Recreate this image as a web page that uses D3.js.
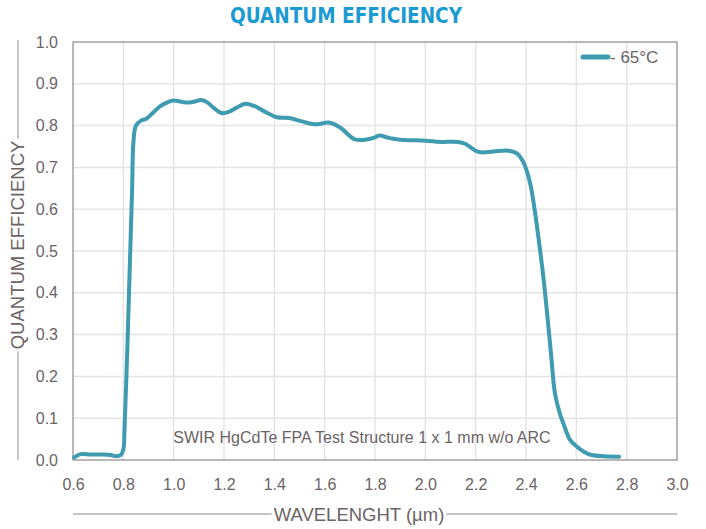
<!DOCTYPE html>
<html>
<head>
<meta charset="utf-8">
<script src="https://cdn.jsdelivr.net/npm/d3@7"></script>
<style>
  html, body { margin: 0; padding: 0; background: #fff; }
  svg { display: block; }
</style>
</head>
<body>
<script>
// ---- data ----
const wavelength = [0.605, 0.63, 0.67, 0.71, 0.75, 0.77, 0.79, 0.80, 0.805, 0.815, 0.825, 0.835, 0.84, 0.85, 0.87, 0.89, 0.92, 0.95, 0.98, 1.0, 1.05, 1.08, 1.11, 1.135, 1.16, 1.19, 1.22, 1.25, 1.285, 1.32, 1.36, 1.41, 1.46, 1.51, 1.56, 1.62, 1.66, 1.70, 1.72, 1.76, 1.80, 1.815, 1.86, 1.90, 2.0, 2.06, 2.13, 2.16, 2.2, 2.22, 2.27, 2.33, 2.365, 2.39, 2.405, 2.42, 2.435, 2.45, 2.47, 2.485, 2.50, 2.515, 2.535, 2.55, 2.575, 2.60, 2.63, 2.66, 2.71, 2.77];
const qe = [0.006, 0.014, 0.013, 0.013, 0.012, 0.009, 0.012, 0.025, 0.08, 0.25, 0.45, 0.65, 0.76, 0.80, 0.812, 0.816, 0.832, 0.848, 0.857, 0.860, 0.855, 0.857, 0.861, 0.855, 0.842, 0.830, 0.833, 0.843, 0.852, 0.847, 0.834, 0.820, 0.818, 0.810, 0.803, 0.807, 0.796, 0.775, 0.767, 0.766, 0.772, 0.776, 0.770, 0.766, 0.764, 0.761, 0.761, 0.756, 0.740, 0.736, 0.738, 0.740, 0.733, 0.712, 0.688, 0.652, 0.596, 0.530, 0.432, 0.344, 0.250, 0.160, 0.110, 0.085, 0.048, 0.033, 0.020, 0.012, 0.009, 0.008];
const xTicks = [0.6, 0.8, 1.0, 1.2, 1.4, 1.6, 1.8, 2.0, 2.2, 2.4, 2.6, 2.8, 3.0];
const yTicks = [0.0, 0.1, 0.2, 0.3, 0.4, 0.5, 0.6, 0.7, 0.8, 0.9, 1.0];
const seriesName = "- 65°C";
const title = "QUANTUM EFFICIENCY";
const xLabel = "WAVELENGHT (µm)";
const yLabel = "QUANTUM EFFICIENCY";
const note = "SWIR HgCdTe FPA Test Structure 1 x 1 mm w/o ARC";

// ---- layout ----
const W = 706, H = 529;
const m = { left: 73, right: 29, top: 42, bottom: 69 };
const pw = W - m.left - m.right, ph = H - m.top - m.bottom;
const lineColor = "#3e9bb0";
const textColor = "#6b6366";
const frameColor = "#8e8789";
const gridColor = "#e4e4e4";
const font = "'Liberation Sans', Arial, sans-serif";

const svg = d3.select("body").append("svg").attr("width", W).attr("height", H);

const x = d3.scaleLinear().domain([0.6, 3.0]).range([m.left, m.left + pw]);
const y = d3.scaleLinear().domain([0, 1]).range([m.top + ph, m.top]);

// title
svg.append("text")
  .attr("x", 346).attr("y", 23)
  .attr("text-anchor", "middle")
  .attr("font-family", "'Liberation Sans Narrow', 'DejaVu Sans Condensed', sans-serif")
  .attr("font-weight", "bold")
  .attr("font-size", 20.5)
  .attr("fill", "#1b9ad4")
  .text(title);

// grid
const g = svg.append("g");
g.selectAll(".hg").data(yTicks.slice(1, -1)).join("line")
  .attr("x1", m.left).attr("x2", m.left + pw)
  .attr("y1", d => y(d)).attr("y2", d => y(d))
  .attr("stroke", gridColor).attr("stroke-width", 1.5);
g.selectAll(".vg").data(xTicks.slice(1, -1)).join("line")
  .attr("y1", m.top).attr("y2", m.top + ph)
  .attr("x1", d => x(d)).attr("x2", d => x(d))
  .attr("stroke", gridColor).attr("stroke-width", 1.5);

// frame
svg.append("rect")
  .attr("x", m.left).attr("y", m.top).attr("width", pw).attr("height", ph)
  .attr("fill", "none").attr("stroke", frameColor).attr("stroke-width", 1.2);

// axes (labels only)
const xAxis = d3.axisBottom(x).tickValues(xTicks).tickFormat(d3.format(".1f")).tickSize(0).tickPadding(19);
const xg = svg.append("g").attr("transform", `translate(0,${m.top + ph})`).call(xAxis);
xg.select(".domain").remove();
xg.selectAll("text").attr("font-family", font).attr("font-size", 16).attr("fill", textColor);

const yAxis = d3.axisLeft(y).tickValues(yTicks).tickFormat(d3.format(".1f")).tickSize(0).tickPadding(15);
const yg = svg.append("g").attr("transform", `translate(${m.left},0)`).call(yAxis);
yg.select(".domain").remove();
yg.selectAll("text").attr("font-family", font).attr("font-size", 16).attr("fill", textColor);

// line
const line = d3.line().x((d, i) => x(wavelength[i])).y(d => y(d)).curve(d3.curveCatmullRom.alpha(0.5));
svg.append("path")
  .datum(qe)
  .attr("d", line)
  .attr("fill", "none")
  .attr("stroke", lineColor)
  .attr("stroke-width", 4)
  .attr("stroke-linejoin", "round")
  .attr("stroke-linecap", "round");

// note
svg.append("text")
  .attr("x", 362).attr("y", 443)
  .attr("text-anchor", "middle")
  .attr("font-family", font).attr("font-size", 16)
  .attr("fill", textColor)
  .text(note);

// legend
svg.append("line")
  .attr("x1", 583).attr("x2", 608).attr("y1", 57).attr("y2", 57)
  .attr("stroke", lineColor).attr("stroke-width", 5).attr("stroke-linecap", "round");
svg.append("text")
  .attr("x", 610).attr("y", 63)
  .attr("font-family", font).attr("font-size", 17).attr("fill", textColor)
  .text(seriesName);

// x label with lines
const xl = svg.append("text")
  .attr("x", 359).attr("y", 521)
  .attr("text-anchor", "middle")
  .attr("font-family", font).attr("font-size", 18.5).attr("fill", textColor)
  .text(xLabel);
const xb = xl.node().getBBox();
svg.append("line").attr("x1", m.left).attr("x2", xb.x - 2).attr("y1", 514).attr("y2", 514)
  .attr("stroke", frameColor).attr("stroke-width", 1);
svg.append("line").attr("x1", xb.x + xb.width + 2).attr("x2", m.left + pw).attr("y1", 514).attr("y2", 514)
  .attr("stroke", frameColor).attr("stroke-width", 1);

// y label with lines
const yc = 245;
const ylab = svg.append("text")
  .attr("transform", `translate(24,${yc}) rotate(-90)`)
  .attr("text-anchor", "middle")
  .attr("font-family", font).attr("font-size", 18.5).attr("fill", textColor)
  .text(yLabel);
const yw = ylab.node().getComputedTextLength();
svg.append("line").attr("x1", 18).attr("x2", 18).attr("y1", m.top - 2).attr("y2", yc - yw / 2 - 2)
  .attr("stroke", frameColor).attr("stroke-width", 1);
svg.append("line").attr("x1", 18).attr("x2", 18).attr("y1", yc + yw / 2 + 2).attr("y2", m.top + ph)
  .attr("stroke", frameColor).attr("stroke-width", 1);
</script>
</body>
</html>
